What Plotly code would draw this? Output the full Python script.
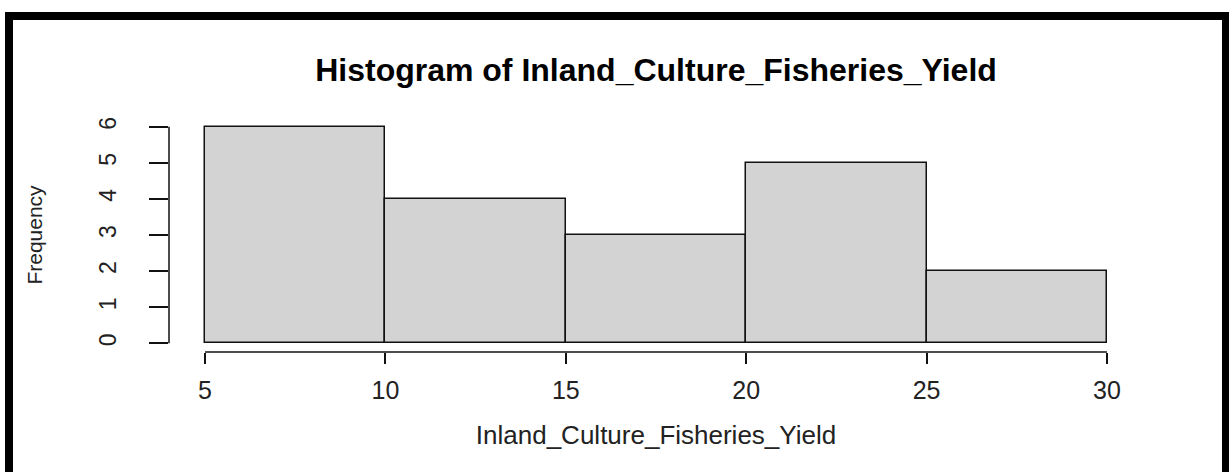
import plotly.graph_objects as go

# Data
breaks = [5, 10, 15, 20, 25, 30]
counts = [6, 4, 3, 5, 2]
x_ticks = [5, 10, 15, 20, 25, 30]
y_ticks = [0, 1, 2, 3, 4, 5, 6]
title_text = "Histogram of Inland_Culture_Fisheries_Yield"
x_label = "Inland_Culture_Fisheries_Yield"
y_label = "Frequency"

mids = [(breaks[i] + breaks[i + 1]) / 2 for i in range(len(counts))]
widths = [breaks[i + 1] - breaks[i] for i in range(len(counts))]

W, H = 1229, 472
L, R, T, B = 169, 86, 118, 120
pw, ph = W - L - R, H - T - B

def px_to_paper_x(px):
    return (px - L) / pw

def px_to_paper_y(py):
    return (H - B - py) / ph

FONT = "Liberation Sans, Arial, Helvetica, sans-serif"

fig = go.Figure()
fig.add_trace(go.Bar(
    x=mids, y=counts, width=widths,
    marker=dict(color="#D3D3D3", line=dict(color="#111111", width=1.5)),
    showlegend=False, hoverinfo="x+y",
))

xr = [breaks[0] - 0.04 * (breaks[-1] - breaks[0]), breaks[-1] + 0.04 * (breaks[-1] - breaks[0])]
ymax = max(y_ticks)
yr = [-0.04 * ymax, ymax * 1.04]

fig.update_layout(
    width=W, height=H,
    margin=dict(l=L, r=R, t=T, b=B, autoexpand=False),
    paper_bgcolor="white", plot_bgcolor="white",
    font=dict(family=FONT, color="#111111"),
    bargap=0,
    title=dict(text="<b>" + title_text + "</b>", x=0.5, xref="paper", xanchor="center",
               y=1 - 70 / H, yref="container", yanchor="middle",
               font=dict(size=32, family=FONT, color="#000000")),
    xaxis=dict(range=xr, tickvals=x_ticks, ticks="outside", ticklen=11, tickwidth=1.5,
               tickcolor="#111111", showline=False, showgrid=False, zeroline=False,
               tickfont=dict(size=25, color="#222222"), ticklabelstandoff=5,
               title=dict(text=x_label, font=dict(size=26, color="#222222"), standoff=22),
               automargin=False),
    yaxis=dict(range=yr, tickvals=y_ticks, ticks="outside", ticklen=19, tickwidth=1.5,
               tickcolor="#111111", showline=False, showgrid=False, zeroline=False,
               tickangle=-90, tickfont=dict(size=23, color="#222222"), ticklabelstandoff=24,
               title=dict(text=y_label, font=dict(size=21, color="#222222"), standoff=46),
               automargin=False),
    shapes=[
        # x axis line
        dict(type="line", xref="x", yref="paper", x0=breaks[0], x1=breaks[-1], y0=0, y1=0,
             line=dict(color="#111111", width=1.5)),
        # y axis line
        dict(type="line", xref="paper", yref="y", x0=0, x1=0, y0=y_ticks[0], y1=y_ticks[-1],
             line=dict(color="#111111", width=1.5)),
        # outer black frame
        dict(type="rect", xref="paper", yref="paper",
             x0=px_to_paper_x(9), x1=px_to_paper_x(1226),
             y0=px_to_paper_y(490), y1=px_to_paper_y(16),
             line=dict(color="#000000", width=8), fillcolor="rgba(0,0,0,0)", layer="above"),
    ],
)

fig.write_html("out.html")
